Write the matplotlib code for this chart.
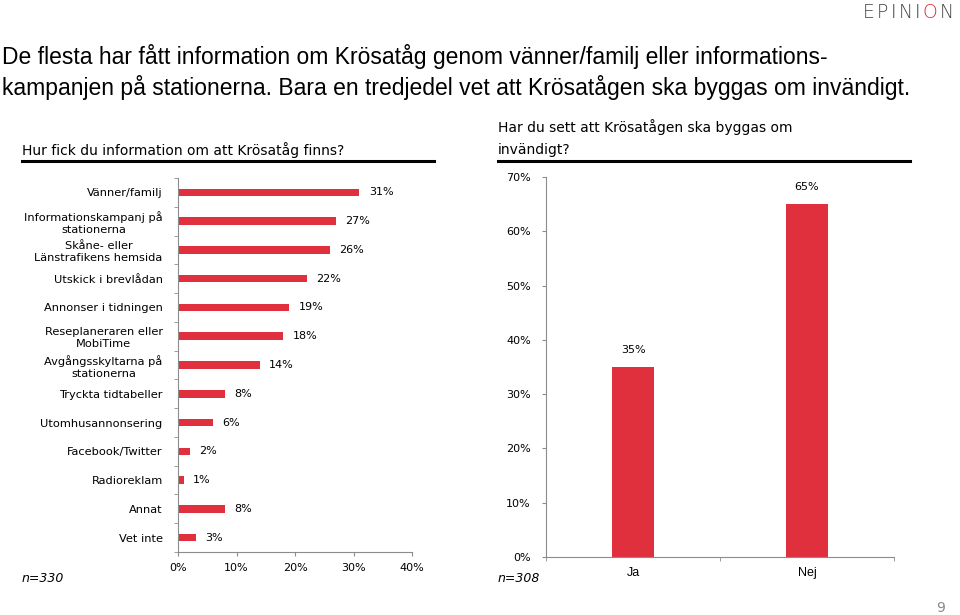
import numpy as np
import matplotlib.pyplot as plt
from matplotlib.lines import Line2D
from matplotlib import font_manager as fm

plt.rcParams['font.family'] = ['DejaVu Sans']

# left chart: "Hur fick du information om att Krösatåg finns?"
sources = ["Vänner/familj", "Informationskampanj på\nstationerna",
           "Skåne- eller\nLänstrafikens hemsida", "Utskick i brevlådan",
           "Annonser i tidningen", "Reseplaneraren eller\nMobiTime",
           "Avgångsskyltarna på\nstationerna", "Tryckta tidtabeller",
           "Utomhusannonsering", "Facebook/Twitter", "Radioreklam",
           "Annat", "Vet inte"]
source_pct = [31, 27, 26, 22, 19, 18, 14, 8, 6, 2, 1, 8, 3]

# right chart: "Har du sett att Krösatågen ska byggas om invändigt?"
answers = ["Ja", "Nej"]
answer_pct = [35, 65]

red = '#e0303e'
axis_grey = '#8c8c8c'

# regular Liberation Sans (Arial metrics) for headline and Ja/Nej
lib_path = None
for f in fm.fontManager.ttflist:
    if f.name == 'Liberation Sans' and f.style == 'normal' and f.weight in (400, 'normal'):
        lib_path = f.fname
        break
arial = fm.FontProperties(fname=lib_path) if lib_path else fm.FontProperties(family='DejaVu Sans')

fig = plt.figure(figsize=(9.6, 6.15), dpi=100)

# headline
head = arial.copy()
head.set_size(16.5)
fig.text(0.002, 0.908, "De flesta har fått information om Krösatåg genom vänner/familj eller informations-",
         fontproperties=head, va='center')
fig.text(0.002, 0.858, "kampanjen på stationerna. Bara en tredjedel vet att Krösatågen ska byggas om invändigt.",
         fontproperties=head, va='center')

# logo, letters spaced out by hand
logo = "EPINION"
renderer = fig.canvas.get_renderer()
xpos = 863
for i, ch in enumerate(logo):
    t = fig.text(xpos / 960, 1 - 12 / 615, ch, fontsize=13.5, family='DejaVu Sans',
                 fontweight='light', color=red if i == 5 else '#444444', va='center', ha='left')
    w = t.get_window_extent(renderer).width
    xpos += w + 2.4

# subtitles with underline
fig.text(22/960, 1-150/615, "Hur fick du information om att Krösatåg finns?", fontsize=10, va='center')
fig.add_artist(Line2D([22/960, 434/960], [1-161/615, 1-161/615], color='black', lw=2.2))
fig.text(498/960, 1-127/615, "Har du sett att Krösatågen ska byggas om", fontsize=10, va='center')
fig.text(498/960, 1-150/615, "invändigt?", fontsize=10, va='center')
fig.add_artist(Line2D([498/960, 910/960], [1-161/615, 1-161/615], color='black', lw=2.2))

# left horizontal bar chart
ax1 = fig.add_axes([178/960, 1-552/615, 234/960, 374/615])
y = np.arange(len(sources))
ax1.barh(y, source_pct, height=0.26, color=red)
for yi, v in zip(y, source_pct):
    ax1.text(v + 1.6, yi, f"{v}%", va='center', ha='left', fontsize=8)
ax1.set_xlim(0, 40)
ax1.set_ylim(len(sources) - 0.5, -0.5)
ax1.set_xticks([0, 10, 20, 30, 40])
ax1.set_xticklabels([f"{t}%" for t in [0, 10, 20, 30, 40]], fontsize=8)
ax1.set_yticks(y)
ax1.set_yticklabels(sources, fontsize=8.2, multialignment='center')
ax1.set_yticks(np.arange(-0.5, len(sources)), minor=True)
ax1.tick_params(axis='y', which='major', length=0, pad=11)
ax1.tick_params(axis='y', which='minor', length=3, color=axis_grey)
ax1.tick_params(axis='x', length=3, color=axis_grey, pad=5)
for s in ['top', 'right']:
    ax1.spines[s].set_visible(False)
for s in ['left', 'bottom']:
    ax1.spines[s].set_color(axis_grey)
fig.text(22/960, 1-579/615, "n=330", fontsize=9, style='italic', va='center')

# right vertical bar chart
ax2 = fig.add_axes([546/960, 1-557/615, 348/960, 380/615])
x = np.arange(len(answers))
ax2.bar(x, answer_pct, width=0.245, color=red)
for xi, v in zip(x, answer_pct):
    ax2.text(xi, v + 2.2, f"{v}%", ha='center', va='bottom', fontsize=8)
ax2.set_xlim(-0.5, len(answers) - 0.5)
ax2.set_ylim(0, 70)
ax2.set_yticks(np.arange(0, 71, 10))
ax2.set_yticklabels([f"{t}%" for t in range(0, 71, 10)], fontsize=8)
ax2.set_xticks(x)
ax2.set_xticklabels(answers)
for lab in ax2.get_xticklabels():
    lab.set_fontproperties(arial)
    lab.set_fontsize(9)
ax2.set_xticks(np.arange(-0.5, len(answers)), minor=True)
ax2.tick_params(axis='x', which='major', length=0, pad=7)
ax2.tick_params(axis='x', which='minor', length=3, color=axis_grey)
ax2.tick_params(axis='y', length=3, color=axis_grey, pad=8)
for s in ['top', 'right']:
    ax2.spines[s].set_visible(False)
for s in ['left', 'bottom']:
    ax2.spines[s].set_color(axis_grey)
fig.text(498/960, 1-579/615, "n=308", fontsize=9, style='italic', va='center')

# page number
fig.text(941/960, 1-608/615, "9", fontsize=10, color='#888888', ha='center', va='center')

fig.savefig("out.png", dpi=100)
